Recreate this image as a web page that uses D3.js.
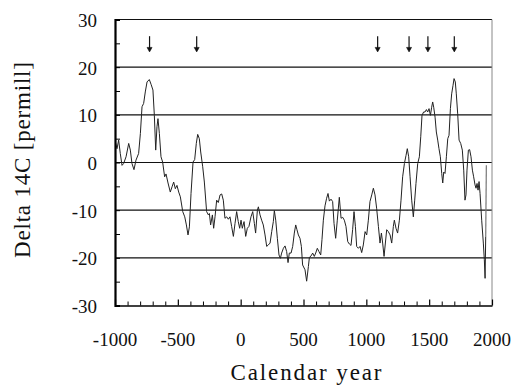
<!DOCTYPE html>
<html>
<head>
<meta charset="utf-8">
<script src="https://cdn.jsdelivr.net/npm/d3@7"></script>
<style>
  body { margin: 0; background: #fff; }
  svg text { font-family: "Liberation Serif", "Times New Roman", serif; }
</style>
</head>
<body>
<svg id="chart" width="515" height="385"></svg>
<script>
// calendar years and delta 14C values (permill)
const years = [
  -997, -984, -971, -958, -944, -931, -912, -891, -878, -865, -849, -833, -812, -798, -785,
  -772, -759, -745, -727, -713, -698, -687, -676, -666, -658, -647, -634, -621, -605, -594,
  -578, -560, -546, -533, -520, -507, -493, -480, -461, -445, -432, -419, -408, -395, -379,
  -366, -353, -342, -329, -318, -302, -289, -271, -257, -249, -239, -225, -215, -204, -191,
  -178, -164, -151, -138, -125, -111, -98, -85, -72, -58, -45, -32, -19, -8, 3,
  13, 27, 40, 53, 66, 82, 96, 109, 119, 133, 141, 154, 167, 180, 194,
  207, 220, 234, 247, 260, 268, 279, 292, 305, 316, 326, 340, 353, 366, 377,
  387, 401, 414, 427, 438, 448, 459, 472, 483, 493, 512, 525, 539, 547, 560,
  573, 586, 597, 610, 623, 637, 647, 658, 671, 684, 695, 706, 719, 732, 743,
  756, 769, 785, 799, 812, 825, 838, 852, 865, 878, 891, 902, 913, 923, 937,
  950, 963, 976, 990, 1003, 1016, 1029, 1043, 1056, 1069, 1082, 1096, 1109, 1120, 1130,
  1141, 1162, 1175, 1189, 1202, 1215, 1223, 1236, 1249, 1263, 1276, 1289, 1303, 1316, 1326,
  1337, 1348, 1361, 1374, 1385, 1395, 1409, 1422, 1433, 1443, 1456, 1467, 1478, 1488, 1499,
  1510, 1520, 1528, 1536, 1547, 1557, 1568, 1578, 1589, 1600, 1608, 1616, 1626, 1637, 1648,
  1658, 1669, 1679, 1690, 1698, 1708, 1716, 1727, 1738, 1751, 1764, 1775, 1785, 1793, 1801,
  1812, 1822, 1833, 1844, 1854, 1865, 1873, 1881, 1889, 1897, 1905, 1918, 1931, 1939, 1945,
  1950, 1955
];
const delta14C = [
  4.3, 2.9, 4.7, 1.9, -0.6, -0.2, 1.2, 4.0, 2.6, -0.2, -1.5, 0.5, 1.9, 6.1, 11.7,
  12.4, 14.8, 16.9, 17.4, 16.4, 15.2, 9.9, 2.6, 7.5, 9.2, 6.1, 1.2, 0.1, -3.0, -2.4,
  -4.3, -6.2, -5.1, -4.1, -5.5, -4.8, -6.2, -7.2, -10.3, -11.4, -13.1, -15.2, -13.5, -6.5, 0.1,
  0.6, 4.0, 5.9, 5.0, 2.2, -0.9, -4.1, -10.3, -11.0, -10.7, -13.1, -11.0, -13.8, -11.4, -7.9,
  -8.4, -6.8, -6.6, -7.9, -11.7, -11.4, -11.9, -11.4, -13.4, -15.5, -12.8, -10.3, -12.4, -13.8, -12.1,
  -13.8, -12.4, -15.5, -13.8, -13.4, -11.4, -10.3, -12.8, -14.8, -10.0, -9.3, -11.0, -12.1, -13.1, -15.2,
  -17.6, -17.3, -16.9, -14.5, -12.4, -10.1, -12.1, -15.9, -19.4, -20.1, -19.0, -18.0, -17.5, -18.7, -21.0,
  -19.0, -19.0, -17.6, -14.8, -13.1, -14.1, -15.2, -15.9, -17.6, -21.5, -22.5, -24.9, -21.8, -19.9, -19.6,
  -19.0, -19.7, -19.0, -18.0, -18.7, -19.4, -16.2, -12.1, -9.1, -7.5, -6.5, -8.1, -7.7, -8.2, -12.8,
  -15.9, -12.1, -7.3, -11.7, -11.5, -12.1, -13.4, -16.6, -17.1, -17.4, -14.1, -10.3, -13.4, -17.6, -18.0,
  -17.6, -18.9, -17.3, -14.5, -15.2, -12.1, -8.2, -6.8, -5.4, -6.8, -9.6, -13.4, -16.9, -14.8, -16.9,
  -19.7, -14.1, -14.5, -15.2, -16.9, -13.4, -12.1, -13.8, -14.8, -12.1, -7.9, -3.0, -0.2, 1.5, 2.9,
  1.2, -3.0, -7.9, -11.4, -7.9, -4.4, -0.2, 1.2, 5.4, 9.9, 10.6, 10.6, 11.1, 10.6, 11.3,
  9.9, 11.6, 12.7, 11.6, 9.5, 6.4, 4.7, 2.9, 1.2, -2.3, -4.3, -2.0, -2.3, 1.2, 5.0,
  5.7, 11.3, 14.4, 16.2, 17.6, 16.9, 14.4, 10.2, 4.7, 4.0, 2.6, -1.6, -7.9, -6.8, -1.6,
  2.6, 2.7, 1.2, -1.6, -3.0, -4.7, -5.4, -4.4, -5.8, -4.0, -6.5, -12.1, -16.9, -20.4, -24.3,
  -15.5, -0.6
];
// years marked with arrows above the curve
const arrowYears = [-725, -350, 1090, 1340, 1490, 1700];

const xTickLabels = [-1000, -500, 0, 500, 1000, 1500, 2000];
const yTickLabels = [-30, -20, -10, 0, 10, 20, 30];
const gridValues = [-20, -10, 0, 10, 20, 30];

const serif = '"Liberation Serif", "Times New Roman", serif';
const svg = d3.select('#chart');
const plotLeft = 115, plotRight = 492, plotTop = 19.5, plotBottom = 305.5;

const x = d3.scaleLinear().domain([-1000, 2000]).range([plotLeft, plotRight]);
const y = d3.scaleLinear().domain([-30, 30]).range([plotBottom, plotTop]);

// horizontal grid lines (incl. top border)
svg.append('g')
  .selectAll('line')
  .data(gridValues)
  .enter()
  .append('line')
  .attr('x1', plotLeft)
  .attr('x2', plotRight)
  .attr('y1', (d) => y(d))
  .attr('y2', (d) => y(d))
  .attr('stroke', '#111')
  .attr('stroke-width', 1.1);

// right border, grey
svg.append('line')
  .attr('x1', plotRight).attr('x2', plotRight)
  .attr('y1', plotTop).attr('y2', plotBottom)
  .attr('stroke', '#888')
  .attr('stroke-width', 1);

// the curve
const line = d3.line()
  .x((d, i) => x(years[i]))
  .y((d) => y(d));
svg.append('path')
  .datum(delta14C.slice(0, delta14C.length - 1))
  .attr('d', line)
  .attr('fill', 'none')
  .attr('stroke', '#222')
  .attr('stroke-width', 1)
  .attr('stroke-linejoin', 'round');

// last upswing drawn lighter, as in the reference
const n = years.length;
svg.append('line')
  .attr('x1', x(years[n - 2])).attr('y1', y(delta14C[n - 2]))
  .attr('x2', x(years[n - 1])).attr('y2', y(delta14C[n - 1]))
  .attr('stroke', '#777')
  .attr('stroke-width', 1.2);

// arrows
const arrowTop = 26.5, arrowBottom = 23.2;
const arrows = svg.append('g').attr('stroke', '#111').attr('fill', '#111');
arrowYears.forEach((yr) => {
  const ax = x(yr);
  const y0 = y(arrowTop), y1 = y(arrowBottom);
  arrows.append('line')
    .attr('x1', ax).attr('x2', ax)
    .attr('y1', y0).attr('y2', y1 - 2)
    .attr('stroke-width', 1.2);
  arrows.append('path')
    .attr('d', `M${ax - 2.5},${y1 - 4.5} L${ax},${y1} L${ax + 2.5},${y1 - 4.5} Z`)
    .attr('stroke-width', 0.6);
});

// y axis: ticks every 5 pointing inward
const yAxis = d3.axisLeft(y)
  .tickValues(d3.range(-30, 31, 5))
  .tickSize(-5)
  .tickFormat('');
const gy = svg.append('g')
  .attr('transform', `translate(${plotLeft}, 0)`)
  .call(yAxis);
gy.select('.domain').attr('stroke', '#000').attr('stroke-width', 2.2);
gy.selectAll('.tick line').attr('stroke', '#000').attr('stroke-width', 1);

const yLab = d3.axisLeft(y)
  .tickValues(yTickLabels)
  .tickSize(0)
  .tickPadding(18)
  .tickFormat((d) => String(d));
const gyl = svg.append('g')
  .attr('transform', `translate(${plotLeft}, 0)`)
  .call(yLab)
  .attr('font-family', serif)
  .attr('font-size', 19);
gyl.select('.domain').remove();
gyl.selectAll('text')
  .attr('fill', '#111')
  .attr('dy', '0.36em');

// x axis: minor ticks every 100 years, major every 500
const xAxis = d3.axisBottom(x)
  .tickValues(d3.range(-1000, 2001, 100).filter((d) => d % 500 !== 0))
  .tickSize(-4)
  .tickFormat('')
  .tickSizeOuter(0);
const gx = svg.append('g')
  .attr('transform', `translate(0, ${plotBottom})`)
  .call(xAxis);
gx.select('.domain').attr('stroke', '#000').attr('stroke-width', 1.6);
gx.selectAll('.tick line').attr('stroke', '#000');

const xMajor = d3.axisBottom(x)
  .tickValues(xTickLabels)
  .tickSize(-6)
  .tickPadding(0)
  .tickFormat('');
const gxm = svg.append('g')
  .attr('transform', `translate(0, ${plotBottom})`)
  .call(xMajor);
gxm.select('.domain').remove();
gxm.selectAll('.tick line').attr('stroke', '#000').attr('stroke-width', 1.2);

svg.append('g')
  .attr('font-family', serif)
  .attr('font-size', 19)
  .selectAll('text')
  .data(xTickLabels)
  .enter()
  .append('text')
  .attr('x', (d) => x(d))
  .attr('y', 346)
  .attr('text-anchor', 'middle')
  .attr('fill', '#111')
  .text((d) => String(d));

// axis titles
svg.append('text')
  .attr('x', 306)
  .attr('y', 380)
  .attr('text-anchor', 'middle')
  .attr('font-family', serif)
  .attr('font-size', 23)
  .attr('fill', '#111')
  .attr('textLength', 151)
  .attr('lengthAdjust', 'spacing')
  .text('Calendar year');

svg.append('text')
  .attr('transform', 'translate(30, 160) rotate(-90)')
  .attr('text-anchor', 'middle')
  .attr('font-family', serif)
  .attr('font-size', 23)
  .attr('fill', '#111')
  .attr('textLength', 196)
  .attr('lengthAdjust', 'spacing')
  .text('Delta 14C [permill]');
</script>
</body>
</html>
